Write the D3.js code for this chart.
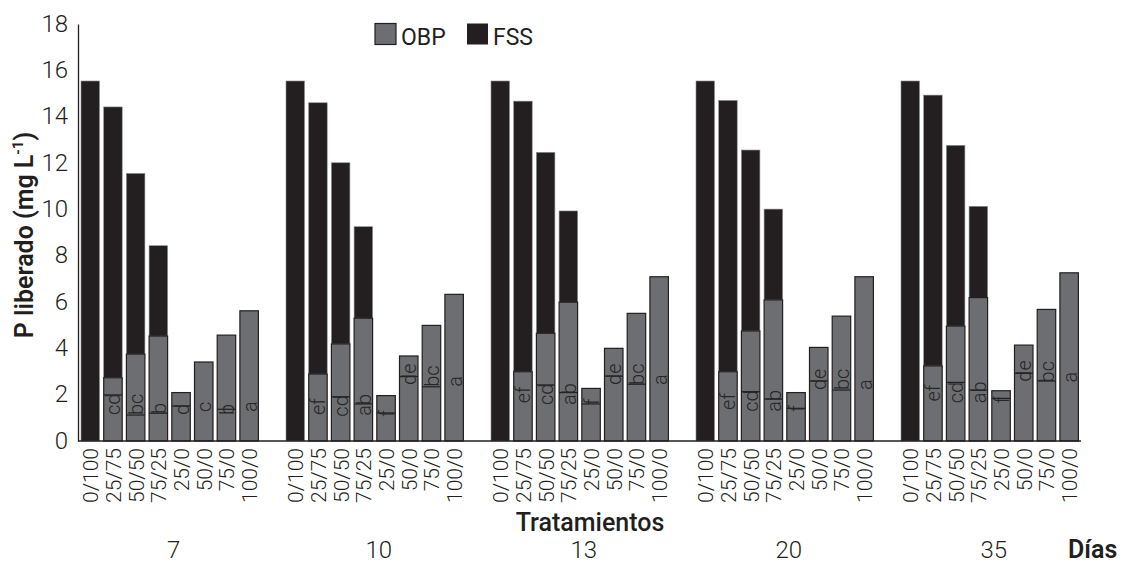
<!DOCTYPE html>
<html>
<head>
<meta charset="utf-8">
<script src="https://cdn.jsdelivr.net/npm/d3@7"></script>
<style>
  html, body { margin: 0; padding: 0; background: #fff; }
  svg { display: block; font-family: Roboto, "Noto Sans", sans-serif; }
</style>
</head>
<body>
<svg id="chart" width="1125" height="563"></svg>
<script>
// Sampling days and fertiliser treatments (OBP / FSS proportions)
const days = ["7", "10", "13", "20", "35"];
const treatments = ["0/100", "25/75", "50/50", "75/25", "25/0", "50/0", "75/0", "100/0"];

// P released (mg L-1) from OBP, per day, in treatment order
const obp7  = [0, 2.73, 3.75, 4.53, 2.09, 3.41, 4.57, 5.62];
const obp10 = [0, 2.89, 4.19, 5.30, 1.96, 3.67, 4.99, 6.33];
const obp13 = [0, 2.99, 4.65, 5.99, 2.27, 4.00, 5.51, 7.09];
const obp20 = [0, 2.99, 4.75, 6.09, 2.09, 4.04, 5.39, 7.09];
const obp35 = [0, 3.24, 4.96, 6.19, 2.17, 4.14, 5.68, 7.26];

// P released (mg L-1) from FSS, stacked above OBP
const fss7  = [15.54, 11.69, 7.80, 3.90, 0, 0, 0, 0];
const fss10 = [15.54, 11.71, 7.82, 3.95, 0, 0, 0, 0];
const fss13 = [15.54, 11.68, 7.81, 3.94, 0, 0, 0, 0];
const fss20 = [15.54, 11.71, 7.81, 3.92, 0, 0, 0, 0];
const fss35 = [15.54, 11.69, 7.80, 3.94, 0, 0, 0, 0];

// Mean-separation letters for the OBP part
const letters7  = ["", "cd", "bc", "b", "d", "c", "b", "a"];
const letters10 = ["", "ef", "cd", "ab", "f", "de", "bc", "a"];
const letters13 = ["", "ef", "cd", "ab", "f", "de", "bc", "a"];
const letters20 = ["", "ef", "cd", "ab", "f", "de", "bc", "a"];
const letters35 = ["", "ef", "cd", "ab", "f", "de", "bc", "a"];

// Level (mg L-1) where each letter starts
const letterAt7  = [0, 1.12, 1.12, 1.17, 1.12, 1.25, 1.12, 1.25];
const letterAt10 = [0, 1.12, 1.05, 1.09, 1.05, 2.42, 2.34, 2.34];
const letterAt13 = [0, 1.63, 1.55, 1.55, 1.55, 2.42, 2.42, 2.42];
const letterAt20 = [0, 1.34, 1.26, 1.26, 1.26, 2.20, 2.20, 2.20];
const letterAt35 = [0, 1.70, 1.63, 1.63, 1.63, 2.56, 2.53, 2.52];

// Short rules drawn across the OBP bars beside the letters (mg L-1)
const rule7  = [null, 1.99, 1.12, 1.20, 1.51, null, 1.37, null];
const rule10 = [null, null, 1.91, 1.60, 1.21, 2.78, 2.34, null];
const rule13 = [null, null, 2.42, 2.09, 1.60, 2.80, 2.45, null];
const rule20 = [null, null, 2.13, 1.81, 1.41, 2.59, 2.20, null];
const rule35 = [null, null, 2.53, 2.20, 1.84, 2.92, 2.59, null];

const yTicks = [0, 2, 4, 6, 8, 10, 12, 14, 16, 18];
const seriesNames = ["OBP", "FSS"];

const obpByDay = [obp7, obp10, obp13, obp20, obp35];
const fssByDay = [fss7, fss10, fss13, fss20, fss35];
const lettersByDay = [letters7, letters10, letters13, letters20, letters35];
const letterAtByDay = [letterAt7, letterAt10, letterAt13, letterAt20, letterAt35];
const ruleByDay = [rule7, rule10, rule13, rule20, rule35];

const rows = [];
days.forEach((d, i) => {
  treatments.forEach((t, j) => {
    rows.push({
      day: d, trt: t,
      obp: obpByDay[i][j], fss: fssByDay[i][j],
      letter: lettersByDay[i][j], letterAt: letterAtByDay[i][j],
      rule: ruleByDay[i][j]
    });
  });
});

const colObp = "#6d6e71";
const colFss = "#231f20";
const ink = "#231f20";

const svg = d3.select("#chart");
const axisX = 78, baseY = 441, topY = 24, rightX = 1081;

const y = d3.scaleLinear().domain([0, 18]).range([baseY, topY]);
const x0 = d3.scaleBand().domain(days).range([81, 81 + 205 * days.length]).padding(0);
const x1 = d3.scaleBand().domain(treatments).range([0, 177.4]).paddingInner(0.185).paddingOuter(0);

const bx = d => x0(d.day) + x1(d.trt);
const bw = x1.bandwidth();

// Y axis
const yAxis = svg.append("g")
  .attr("transform", `translate(${axisX},0)`)
  .call(d3.axisLeft(y).tickValues(yTicks).tickSize(0).tickSizeOuter(0).tickPadding(10));
yAxis.select(".domain").attr("stroke", ink).attr("stroke-width", 1.3);
yAxis.selectAll("text")
  .attr("font-family", "Roboto, sans-serif")
  .attr("font-weight", 300)
  .attr("font-size", 24)
  .attr("fill", ink)
  .attr("dy", "0.3em");

// Bars: OBP at the bottom, FSS stacked above
const bars = svg.append("g");
bars.selectAll("rect.fss")
  .data(rows.filter(d => d.fss > 0))
  .join("rect")
  .attr("class", "fss")
  .attr("x", bx)
  .attr("width", bw)
  .attr("y", d => y(d.obp + d.fss))
  .attr("height", d => y(d.obp) - y(d.obp + d.fss))
  .attr("fill", colFss)
  .attr("stroke", "#8c8c8c")
  .attr("stroke-width", 0.6);

bars.selectAll("rect.obp")
  .data(rows.filter(d => d.obp > 0))
  .join("rect")
  .attr("class", "obp")
  .attr("x", bx)
  .attr("width", bw)
  .attr("y", d => y(d.obp))
  .attr("height", d => y(0) - y(d.obp))
  .attr("fill", colObp)
  .attr("stroke", ink)
  .attr("stroke-width", 1.2);

bars.selectAll("line.rule")
  .data(rows.filter(d => d.rule != null))
  .join("line")
  .attr("class", "rule")
  .attr("x1", bx)
  .attr("x2", d => bx(d) + bw)
  .attr("y1", d => y(d.rule))
  .attr("y2", d => y(d.rule))
  .attr("stroke", ink)
  .attr("stroke-width", 1.2);

bars.selectAll("text.letter")
  .data(rows.filter(d => d.letter))
  .join("text")
  .attr("class", "letter")
  .attr("transform", d => `translate(${bx(d) + bw / 2 + 7.5},${y(d.letterAt)}) rotate(-90)`)
  .attr("text-anchor", "start")
  .attr("font-family", "Roboto, sans-serif")
  .attr("font-weight", 300)
  .attr("font-size", 20)
  .attr("fill", "#262626")
  .text(d => d.letter);

// Baseline
svg.append("line")
  .attr("x1", axisX).attr("x2", rightX)
  .attr("y1", baseY).attr("y2", baseY)
  .attr("stroke", ink).attr("stroke-width", 1.5);

// Treatment labels under each bar
svg.append("g").selectAll("text")
  .data(rows)
  .join("text")
  .attr("transform", d => `translate(${bx(d) + bw / 2 + 8},${baseY + 7}) rotate(-90)`)
  .attr("text-anchor", "end")
  .attr("font-family", "Roboto, sans-serif")
  .attr("font-weight", 300)
  .attr("font-size", 21)
  .attr("fill", ink)
  .text(d => d.trt);

// Day labels
svg.append("g").selectAll("text")
  .data(days)
  .join("text")
  .attr("x", d => x0(d) + 177.4 / 2 + 4)
  .attr("y", 558)
  .attr("text-anchor", "middle")
  .attr("font-family", "Roboto, sans-serif")
  .attr("font-weight", 300)
  .attr("font-size", 24)
  .attr("fill", ink)
  .text(d => d);

svg.append("text")
  .attr("x", 1068).attr("y", 558)
  .attr("font-family", "Roboto, sans-serif")
  .attr("font-weight", 600)
  .attr("font-size", 25)
  .attr("fill", ink)
  .text("Días");

svg.append("text")
  .attr("x", 590).attr("y", 531)
  .attr("text-anchor", "middle")
  .attr("font-family", "Roboto, sans-serif")
  .attr("font-weight", 500)
  .attr("font-size", 25)
  .attr("fill", ink)
  .text("Tratamientos");

// Y axis title
const yt = svg.append("text")
  .attr("transform", "translate(33,235) rotate(-90)")
  .attr("text-anchor", "middle")
  .attr("font-family", "Roboto, sans-serif")
  .attr("font-weight", 600)
  .attr("font-size", 25)
  .attr("fill", ink);
yt.append("tspan").text("P liberado (mg L");
yt.append("tspan").attr("font-size", 15).attr("dy", -10).text("-1");
yt.append("tspan").attr("dy", 10).text(")");

// Legend
const legend = svg.append("g");
const legendX = [375, 467];
const legendFill = [colObp, colFss];
seriesNames.forEach((name, i) => {
  legend.append("rect")
    .attr("x", legendX[i]).attr("y", 23.5)
    .attr("width", 21).attr("height", 21)
    .attr("fill", legendFill[i])
    .attr("stroke", i === 0 ? ink : "none")
    .attr("stroke-width", 1.2);
  legend.append("text")
    .attr("x", legendX[i] + 26).attr("y", 45)
    .attr("font-family", "Roboto, sans-serif")
    .attr("font-weight", 400)
    .attr("font-size", 23)
    .attr("fill", ink)
    .text(name);
});
</script>
</body>
</html>
